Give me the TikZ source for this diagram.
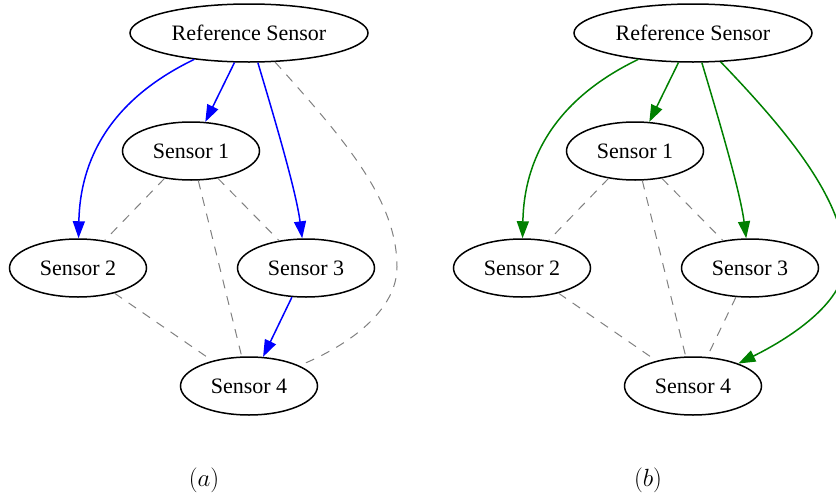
\documentclass[tikz,border=0pt]{standalone}
\usepackage{fontspec}
\setmainfont{Liberation Serif}
\usetikzlibrary{shapes.geometric,arrows.meta}
\definecolor{dgreen}{RGB}{0,128,0}
\definecolor{dgray}{RGB}{128,128,128}
\tikzset{
  sensor/.style={draw, ellipse, line width=1.5pt, inner sep=0pt, minimum width=137pt, minimum height=58pt, font=\fontsize{22}{24}\selectfont},
  refsensor/.style={sensor, minimum width=238pt},
  arr/.style={line width=1.5pt, -{Triangle[length=17pt,width=12pt]}},
  dline/.style={draw=dgray, line width=1pt, dash pattern=on 9pt off 8pt},
  caplabel/.style={font=\fontsize{28}{32}\selectfont}
}
\begin{document}
\begin{tikzpicture}[x=1pt,y=-1pt]
\useasboundingbox (0,0) rectangle (836,498);
% ---------- panel (a) ----------
\begin{scope}
\node[refsensor] (ra) at (249,33) {Reference Sensor};
\node[sensor] (a1) at (191,151) {Sensor 1};
\node[sensor] (a2) at (78,268) {Sensor 2};
\node[sensor] (a3) at (306,268) {Sensor 3};
\node[sensor] (a4) at (249,386) {Sensor 4};
\coordinate (ma) at (397,267);
\draw[dline] (ra) .. controls (345,140) and (397,200) .. (ma)
                  .. controls (397,310) and (350,345) .. (a4);
\draw[dline] (a1) -- (a2);
\draw[dline] (a1) -- (a3);
\draw[dline] (a1) -- (a4);
\draw[dline] (a2) -- (a4);
\draw[arr, blue] (ra) .. controls (110,100) and (80,160) .. (a2);
\draw[arr, blue] (ra) -- (a1);
\draw[arr, blue] (ra) .. controls (272,110) and (296,190) .. (a3);
\draw[arr, blue] (a3) -- (a4);
\node[caplabel] (la) at (204,480) {$(a)$};
\end{scope}
% ---------- panel (b) ----------
\begin{scope}[xshift=444pt]
\node[refsensor] (rb) at (249,33) {Reference Sensor};
\node[sensor] (b1) at (191,151) {Sensor 1};
\node[sensor] (b2) at (78,268) {Sensor 2};
\node[sensor] (b3) at (306,268) {Sensor 3};
\node[sensor] (b4) at (249,386) {Sensor 4};
\coordinate (mb) at (401,262);
\draw[dline] (b1) -- (b2);
\draw[dline] (b1) -- (b3);
\draw[dline] (b1) -- (b4);
\draw[dline] (b2) -- (b4);
\draw[dline] (b3) -- (b4);
\draw[arr, dgreen] (rb) .. controls (110,100) and (80,160) .. (b2);
\draw[arr, dgreen] (rb) -- (b1);
\draw[arr, dgreen] (rb) .. controls (272,110) and (296,190) .. (b3);
\draw[arr, dgreen] (rb) .. controls (342,130) and (401,200) .. (mb)
                        .. controls (401,300) and (352,335) .. (b4);
\node[caplabel] (lb) at (204,480) {$(b)$};
\end{scope}
\end{tikzpicture}
\end{document}
